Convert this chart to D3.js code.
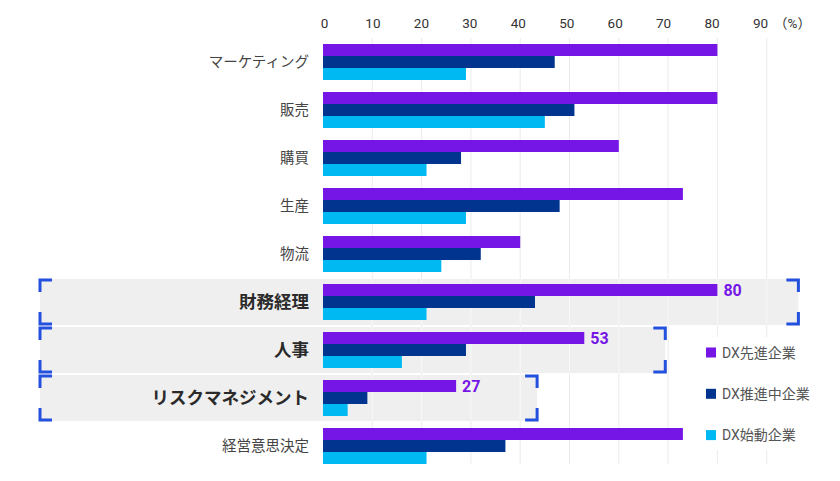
<!DOCTYPE html>
<html>
<head>
<meta charset="utf-8">
<script src="https://cdn.jsdelivr.net/npm/d3@7"></script>
<style>
  html, body { margin: 0; padding: 0; background: #fff; }
  svg { display: block; }
</style>
</head>
<body>
<svg id="chart" width="840" height="481"></svg>
<script>
// ---- data ----
const categories = ["マーケティング", "販売", "購買", "生産", "物流", "財務経理", "人事", "リスクマネジメント", "経営意思決定"];
const seriesNames = ["DX先進企業", "DX推進中企業", "DX始動企業"];
const leaders   = [80, 80, 60, 73, 40, 80, 53, 27, 73];
const promoters = [47, 51, 28, 48, 32, 43, 29, 9, 37];
const starters  = [29, 45, 21, 29, 24, 21, 16, 5, 21];
const highlighted = ["財務経理", "人事", "リスクマネジメント"];
const tickValues = [0, 10, 20, 30, 40, 50, 60, 70, 80, 90];
const unitLabel = "（%）";

const colors = ["#7515e6", "#00348e", "#00b9f2"];
const bracketColor = "#2350dc";
const FONT = "Roboto, 'Noto Sans CJK JP', sans-serif";

const seriesValues = [leaders, promoters, starters];
const rows = categories.map((c, i) => ({ cat: c, values: seriesValues.map(s => s[i]) }));

const svg = d3.select("#chart");

const x = d3.scaleLinear().domain([0, 90]).range([323, 766.7]);
// tick labels sit on a slightly tighter spacing in the original
const xLabel = d3.scaleLinear().domain([0, 90]).range([324, 760]);
const y = d3.scaleBand().domain(categories).range([38, 470]).paddingInner(0.25).paddingOuter(0.125);
const ys = d3.scaleBand().domain(d3.range(seriesNames.length)).range([0, y.bandwidth()]);

const gridTop = 38, gridBottom = 464;

// gridlines
svg.append("g").selectAll("line").data(tickValues.filter(v => v > 0)).join("line")
  .attr("x1", d => x(d)).attr("x2", d => x(d))
  .attr("y1", gridTop).attr("y2", gridBottom)
  .attr("stroke", "#ebebeb").attr("stroke-width", 1);

// highlighted bands
const hlRows = rows.filter(r => highlighted.includes(r.cat));
const bandLeft = 40;
const bandRight = r => x(r.values[0]) + 81;
const bandTop = r => y(r.cat) + y.bandwidth() / 2 - 23;
const bandH = 46;

const hl = svg.append("g");
hl.selectAll("rect").data(hlRows).join("rect")
  .attr("x", bandLeft).attr("y", bandTop)
  .attr("width", r => bandRight(r) - bandLeft).attr("height", bandH)
  .attr("fill", "#efefef");

// lighter gridlines within bands
hlRows.forEach(r => {
  hl.append("g").selectAll("line").data(tickValues.filter(v => v > 0 && x(v) < bandRight(r))).join("line")
    .attr("x1", d => x(d)).attr("x2", d => x(d))
    .attr("y1", bandTop(r)).attr("y2", bandTop(r) + bandH)
    .attr("stroke", "#f8f8f8").attr("stroke-width", 1);
});

// brackets
const arm = 12, sw = 3;
hlRows.forEach(r => {
  const t = bandTop(r) + 1, b = bandTop(r) + bandH - 1;
  const l = bandLeft, rr = bandRight(r);
  const paths = [
    `M${l + arm},${t} H${l} V${t + arm}`,
    `M${l},${b - arm} V${b} H${l + arm}`,
    `M${rr - arm},${t} H${rr} V${t + arm}`,
    `M${rr},${b - arm} V${b} H${rr - arm}`
  ];
  hl.append("g").selectAll("path").data(paths).join("path")
    .attr("d", d => d).attr("fill", "none")
    .attr("stroke", bracketColor).attr("stroke-width", sw)
    .attr("stroke-linecap", "butt").attr("stroke-linejoin", "miter");
});

// bars
const groups = svg.append("g").selectAll("g").data(rows).join("g")
  .attr("transform", d => `translate(0,${y(d.cat)})`);
groups.selectAll("rect").data(d => d.values.map((v, i) => ({ v, i }))).join("rect")
  .attr("x", x(0)).attr("y", d => ys(d.i))
  .attr("width", d => x(d.v) - x(0)).attr("height", ys.bandwidth())
  .attr("fill", d => colors[d.i]);

// value labels on highlighted rows
svg.append("g").selectAll("text").data(hlRows).join("text")
  .attr("x", r => x(r.values[0]) + 6)
  .attr("y", r => y(r.cat) + ys(0) + ys.bandwidth() / 2)
  .attr("dy", "0.36em")
  .attr("font-family", FONT).attr("font-size", 16).attr("font-weight", "bold")
  .attr("fill", colors[0])
  .text(r => r.values[0]);

// category labels
svg.append("g").selectAll("text").data(rows).join("text")
  .attr("x", x(0) - 14)
  .attr("y", d => y(d.cat) + y.bandwidth() / 2)
  .attr("dy", "0.36em")
  .attr("text-anchor", "end")
  .attr("font-family", FONT)
  .attr("font-size", d => highlighted.includes(d.cat) ? 17.5 : 14.5)
  .attr("font-weight", d => highlighted.includes(d.cat) ? "bold" : "normal")
  .attr("fill", d => highlighted.includes(d.cat) ? "#2a2a2a" : "#444")
  .text(d => d.cat);

// top axis
const axis = d3.axisTop(xLabel).tickValues(tickValues).tickSize(0).tickPadding(0);
const ag = svg.append("g").attr("transform", "translate(0,28)").call(axis);
ag.select(".domain").remove();
ag.selectAll("text").attr("font-family", FONT).attr("font-size", 13.5).attr("fill", "#333");
svg.append("text")
  .attr("x", xLabel(90) + 14).attr("y", 23).attr("dy", "0.36em")
  .attr("font-family", FONT).attr("font-size", 13.5).attr("fill", "#333")
  .text(unitLabel);

// legend
const lg = svg.append("g");
lg.append("rect").attr("x", 698).attr("y", 337).attr("width", 120).attr("height", 113).attr("fill", "#fff");
const li = lg.selectAll("g.item").data(seriesNames).join("g").attr("class", "item")
  .attr("transform", (d, i) => `translate(706,${352.5 + i * 41.3})`);
li.append("rect").attr("x", 0).attr("y", -5).attr("width", 10).attr("height", 10)
  .attr("fill", (d, i) => colors[i]);
li.append("text").attr("x", 16).attr("y", 0).attr("dy", "0.36em")
  .attr("font-family", FONT).attr("font-size", 14).attr("fill", "#555")
  .text(d => d);
</script>
</body>
</html>
